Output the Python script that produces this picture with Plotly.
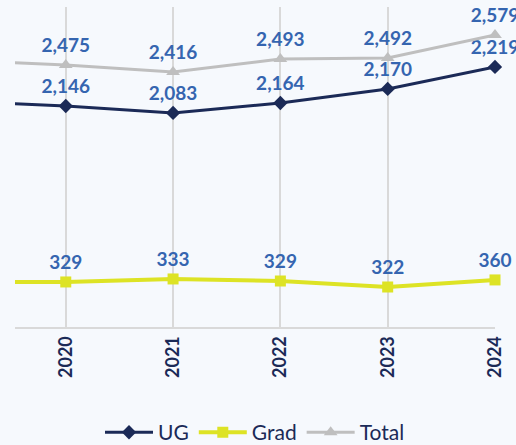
import plotly.graph_objects as go

# Category years (2019 is the partial segment entering from the left edge)
years = [2019, 2020, 2021, 2022, 2023, 2024]
tick_years = [2020, 2021, 2022, 2023, 2024]

# Plotted positions (as drawn in the picture)
ug_values = [2195, 2146, 2074, 2177, 2322, 2549]
grad_values = [330, 329, 360, 339, 277, 350]
total_values = [2620, 2569, 2497, 2631, 2641, 2879]

# Printed data labels
ug_labels = ["", "2,146", "2,083", "2,164", "2,170", "2,219"]
grad_labels = ["", "329", "333", "329", "322", "360"]
total_labels = ["", "2,475", "2,416", "2,493", "2,492", "2,579"]

navy = "#1b2a57"
yellow = "#dde325"
gray = "#bfbfbf"
label_blue = "#3565b0"
font_family = "Lato, 'Open Sans', sans-serif"

fig = go.Figure()

fig.add_trace(go.Scatter(
    x=years, y=ug_values, name="UG", mode="lines+markers+text",
    line=dict(color=navy, width=3),
    marker=dict(symbol="diamond", size=11, color=navy),
    text=ug_labels, textposition="top center",
    textfont=dict(color=label_blue, size=19, family=font_family, weight="bold"),
    cliponaxis=False,
))
fig.add_trace(go.Scatter(
    x=years, y=grad_values, name="Grad", mode="lines+markers+text",
    line=dict(color=yellow, width=4),
    marker=dict(symbol="square", size=11, color=yellow),
    text=grad_labels, textposition="top center",
    textfont=dict(color=label_blue, size=19, family=font_family, weight="bold"),
    cliponaxis=False,
))
fig.add_trace(go.Scatter(
    x=years, y=total_values, name="Total", mode="lines+markers+text",
    line=dict(color=gray, width=3),
    marker=dict(symbol="triangle-up", size=12, color=gray),
    text=total_labels, textposition="top center",
    textfont=dict(color=label_blue, size=19, family=font_family, weight="bold"),
    cliponaxis=False,
))

fig.update_layout(
    width=516, height=445,
    margin=dict(l=15, r=21, t=7, b=118, autoexpand=False),
    paper_bgcolor="#f6f9fd",
    plot_bgcolor="#f6f9fd",
    font=dict(family=font_family, color=navy),
    showlegend=True,
    legend=dict(
        orientation="h", x=0.5, xanchor="center", y=-0.33, yanchor="middle",
        font=dict(size=21, color=navy, family=font_family),
        bgcolor="rgba(0,0,0,0)", itemwidth=48,
    ),
    xaxis=dict(
        range=[2019.527, 2024],
        tickmode="array", tickvals=tick_years, ticktext=[str(y) for y in tick_years],
        tickangle=-90,
        tickfont=dict(size=18, color=navy, family=font_family, weight="bold"),
        showgrid=True, gridcolor="#d9d9d9", gridwidth=1.5,
        showline=True, linecolor="#d9d9d9", linewidth=2,
        ticks="", zeroline=False, automargin=False,
    ),
    yaxis=dict(
        range=[-136, 3168], automargin=False,
        showgrid=False, showticklabels=False, zeroline=False, showline=False,
    ),
)

fig.write_html("out.html", config={"displayModeBar": False})

# remove default page margin so the figure sits at the window's top-left corner
with open("out.html", encoding="utf-8") as f:
    html = f.read()
html = html.replace("<body>", '<body style="margin:0;padding:0;overflow:hidden;">', 1)
with open("out.html", "w", encoding="utf-8") as f:
    f.write(html)
